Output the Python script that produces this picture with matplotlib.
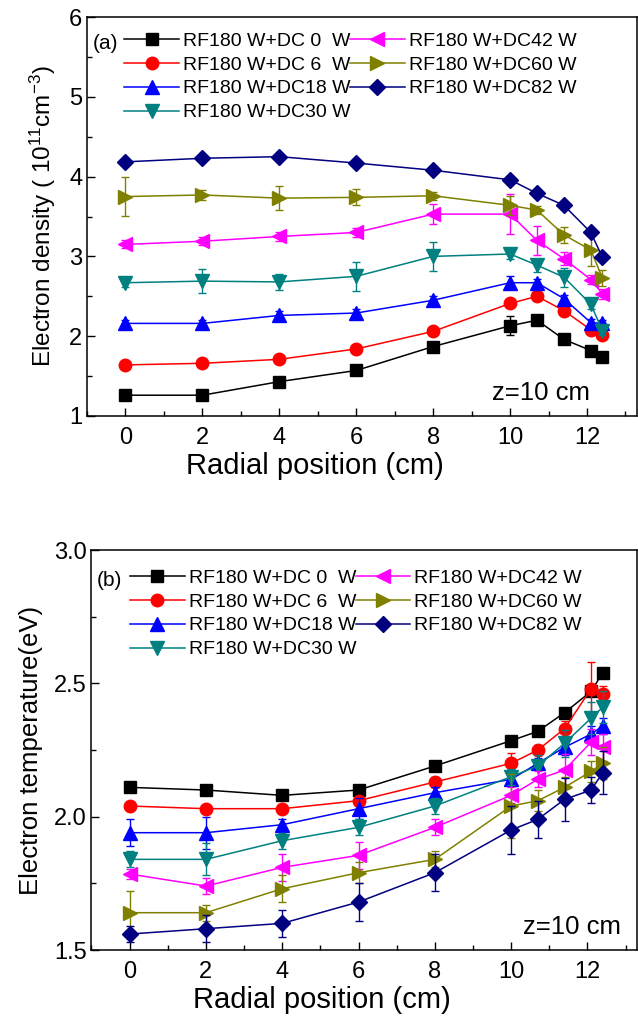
import matplotlib
matplotlib.use("Agg")
import matplotlib.pyplot as plt
from matplotlib.ticker import MultipleLocator, FormatStrFormatter

plt.rcParams["font.family"] = ["Liberation Sans", "DejaVu Sans"]
plt.rcParams["mathtext.default"] = "regular"

# radial positions of the probe (cm)
radius = [0, 2, 4, 6, 8, 10, 10.7, 11.4, 12.1, 12.4]

labels = ["RF180 W+DC 0  W", "RF180 W+DC 6  W", "RF180 W+DC18 W", "RF180 W+DC30 W",
          "RF180 W+DC42 W", "RF180 W+DC60 W", "RF180 W+DC82 W"]
colors = ["#000000", "#ff0000", "#0000ff", "#008080", "#ff00ff", "#808000", "#000080"]
markers = ["s", "o", "^", "v", "<", ">", "D"]
msizes = [8.5, 9, 9.5, 9.5, 9.5, 9.5, 8]

# electron density (1e11 cm^-3)
ne_dc0 = [1.26, 1.26, 1.43, 1.57, 1.87, 2.13, 2.20, 1.96, 1.82, 1.74]
ne_dc6 = [1.64, 1.66, 1.71, 1.84, 2.06, 2.41, 2.50, 2.32, 2.08, 2.01]
ne_dc18 = [2.16, 2.16, 2.26, 2.29, 2.45, 2.67, 2.67, 2.47, 2.17, 2.16]
ne_dc30 = [2.67, 2.69, 2.68, 2.75, 3.00, 3.03, 2.89, 2.74, 2.40, 2.07]
ne_dc42 = [3.15, 3.19, 3.25, 3.30, 3.53, 3.53, 3.20, 2.97, 2.71, 2.53]
ne_dc60 = [3.75, 3.77, 3.73, 3.74, 3.76, 3.64, 3.58, 3.27, 3.08, 2.73]
ne_dc82 = [4.185, 4.23, 4.25, 4.17, 4.08, 3.96, 3.79, 3.64, 3.30, 2.99]

ne_err_dc0 = [0.02, 0.02, 0.03, 0.03, 0.04, 0.12, 0.04, 0.05, 0.06, 0.03]
ne_err_dc6 = [0.03, 0.03, 0.03, 0.03, 0.04, 0.05, 0.05, 0.04, 0.04, 0.04]
ne_err_dc18 = [0.04, 0.04, 0.05, 0.05, 0.05, 0.08, 0.05, 0.05, 0.05, 0.04]
ne_err_dc30 = [0.05, 0.15, 0.10, 0.18, 0.18, 0.06, 0.08, 0.12, 0.06, 0.05]
ne_err_dc42 = [0.05, 0.05, 0.06, 0.06, 0.13, 0.25, 0.18, 0.08, 0.06, 0.06]
ne_err_dc60 = [0.24, 0.06, 0.15, 0.10, 0.05, 0.12, 0.05, 0.10, 0.20, 0.10]
ne_err_dc82 = [0.03, 0.03, 0.03, 0.03, 0.03, 0.05, 0.04, 0.04, 0.04, 0.04]

# electron temperature (eV)
te_dc0 = [2.11, 2.10, 2.08, 2.10, 2.19, 2.285, 2.32, 2.39, 2.47, 2.54]
te_dc6 = [2.04, 2.03, 2.03, 2.06, 2.13, 2.20, 2.25, 2.33, 2.48, 2.46]
te_dc18 = [1.94, 1.94, 1.97, 2.03, 2.09, 2.14, 2.20, 2.26, 2.31, 2.34]
te_dc30 = [1.84, 1.84, 1.91, 1.96, 2.04, 2.15, 2.19, 2.275, 2.37, 2.41]
te_dc42 = [1.785, 1.74, 1.81, 1.855, 1.96, 2.08, 2.14, 2.175, 2.28, 2.26]
te_dc60 = [1.64, 1.64, 1.73, 1.79, 1.84, 2.04, 2.06, 2.11, 2.17, 2.20]
te_dc82 = [1.56, 1.58, 1.60, 1.68, 1.79, 1.95, 1.99, 2.065, 2.10, 2.165]

te_err_dc0 = [0.01, 0.01, 0.01, 0.01, 0.01, 0.01, 0.01, 0.01, 0.01, 0.01]
te_err_dc6 = [0.01, 0.01, 0.01, 0.01, 0.02, 0.04, 0.02, 0.03, 0.10, 0.03]
te_err_dc18 = [0.05, 0.06, 0.02, 0.04, 0.02, 0.02, 0.02, 0.03, 0.03, 0.03]
te_err_dc30 = [0.03, 0.06, 0.03, 0.03, 0.03, 0.03, 0.04, 0.05, 0.06, 0.06]
te_err_dc42 = [0.02, 0.03, 0.05, 0.05, 0.03, 0.03, 0.03, 0.06, 0.05, 0.05]
te_err_dc60 = [0.08, 0.03, 0.05, 0.04, 0.03, 0.12, 0.04, 0.04, 0.04, 0.06]
te_err_dc82 = [0.03, 0.05, 0.05, 0.07, 0.07, 0.09, 0.07, 0.08, 0.05, 0.08]

ne_series = [ne_dc0, ne_dc6, ne_dc18, ne_dc30, ne_dc42, ne_dc60, ne_dc82]
ne_errors = [ne_err_dc0, ne_err_dc6, ne_err_dc18, ne_err_dc30, ne_err_dc42, ne_err_dc60, ne_err_dc82]
te_series = [te_dc0, te_dc6, te_dc18, te_dc30, te_dc42, te_dc60, te_dc82]
te_errors = [te_err_dc0, te_err_dc6, te_err_dc18, te_err_dc30, te_err_dc42, te_err_dc60, te_err_dc82]

fig = plt.figure(figsize=(6.38, 10.21), dpi=100)
ax_ne = fig.add_axes([0.1364, 0.5926, 0.862, 0.3907])
ax_te = fig.add_axes([0.1434, 0.0695, 0.855, 0.3918])


def draw_panel(ax, series, errors, tag, leg_anchor, xlab_pos):
    for y, e, c, m, ms, lab in zip(series, errors, colors, markers, msizes, labels):
        # error bars first, then the line with markers (legend shows line + marker only)
        ax.errorbar(radius, y, yerr=e, fmt="none", ecolor=c, elinewidth=1.0,
                    capsize=3, capthick=1.0)
        ax.plot(radius, y, color=c, marker=m, markersize=ms, linewidth=1.1, label=lab)
    ax.set_xlim(-1, 13.3)
    ax.xaxis.set_major_locator(MultipleLocator(2))
    ax.xaxis.set_minor_locator(MultipleLocator(1))
    ax.tick_params(which="both", direction="in", labelsize=17, top=False, right=False)
    ax.tick_params(which="major", length=6, width=1)
    ax.tick_params(which="minor", length=3.5, width=1)
    ax.tick_params(axis="x", pad=8)
    ax.set_xlabel("Radial position (cm)", fontsize=21)
    ax.xaxis.set_label_coords(xlab_pos, -0.09)
    ax.legend(loc="upper left", bbox_to_anchor=leg_anchor, ncol=2, frameon=False,
              fontsize=14, handlelength=2.8, handletextpad=0.2, columnspacing=0.0,
              labelspacing=0.32, borderpad=0, borderaxespad=0)
    ax.text(0.01, leg_anchor[1] - 0.004, tag, transform=ax.transAxes, fontsize=15,
            ha="left", va="top")
    for sp in ax.spines.values():
        sp.set_linewidth(1.1)


draw_panel(ax_ne, ne_series, ne_errors, "(a)", (0.068, 0.962), 0.415)
ax_ne.set_ylim(1, 6)
ax_ne.yaxis.set_major_locator(MultipleLocator(1))
ax_ne.yaxis.set_minor_locator(MultipleLocator(0.5))
ax_ne.set_ylabel("Electron density ( 10$^{11}$cm$^{-3}$)", fontsize=17.5, labelpad=8)
ax_ne.text(0.915, 0.057, "z=10 cm", transform=ax_ne.transAxes, fontsize=18.5,
           ha="right", va="center")

draw_panel(ax_te, te_series, te_errors, "(b)", (0.071, 0.952), 0.423)
ax_te.set_ylim(1.5, 3.0)
ax_te.yaxis.set_major_locator(MultipleLocator(0.5))
ax_te.yaxis.set_minor_locator(MultipleLocator(0.25))
ax_te.yaxis.set_major_formatter(FormatStrFormatter("%.1f"))
ax_te.set_ylabel("Electron temperature(eV)", fontsize=18.5, labelpad=8)
ax_te.text(0.97, 0.057, "z=10 cm", transform=ax_te.transAxes, fontsize=18.5,
           ha="right", va="center")

fig.savefig("out.png", dpi=100)
